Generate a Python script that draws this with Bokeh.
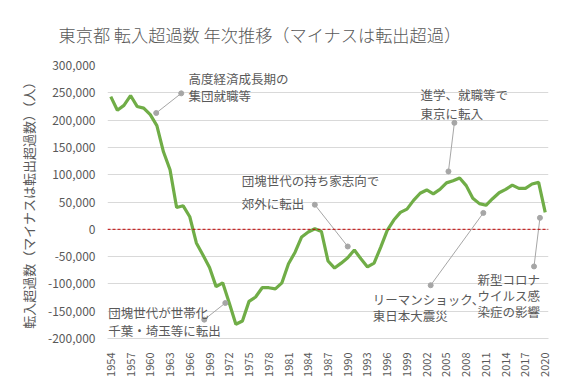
from bokeh.plotting import figure
from bokeh.models import (ColumnDataSource, FixedTicker, NumeralTickFormatter, Span, Label, Title)
from bokeh.embed import file_html
from bokeh.resources import INLINE
import math

# ---- data ----
years = list(range(1954, 2021))
net_migration = [
    243000, 218000, 227000, 245000, 225000, 222000, 210000, 190000, 142000, 109000,
    40000, 43000, 23000, -25000, -47000, -70000, -105000, -98000, -135000, -174000,
    -168000, -132000, -124000, -107000, -107000, -109000, -98000, -63000, -42000, -14000,
    -5000, 1000, -4000, -58000, -71000, -62000, -52000, -38000, -54000, -69000,
    -62000, -33000, -2000, 17000, 31000, 37000, 53000, 66000, 72000, 65000,
    73000, 85000, 89000, 94000, 80000, 57000, 47000, 44000, 56000, 67000,
    73000, 81000, 75000, 75000, 83000, 86000, 31000,
]
x_tick_years = list(range(1954, 2021, 3))
y_ticks = list(range(-200000, 300001, 50000))

title_text = "東京都 転入超過数 年次推移（マイナスは転出超過）"
y_label = "転入超過数（マイナスは転出超過数）（人）"

# annotations: text lines, text anchor (year, value), line step, leader from/to (year, value)
notes = [
    (["高度経済成長期の", "集団就職等"], (1965.8, 276000), 31000, ((1964.7, 249000), (1960.9, 213000))),
    (["団塊世代の持ち家志向で", "郊外に転出"], (1973.9, 90000), 42000, ((1985.0, 45000), (1990.0, -31500))),
    (["進学、就職等で", "東京に転入"], (2001.05, 247500), 34500, ((2006.2, 195000), (2005.3, 106000))),
    (["リーマンショック、", "東日本大震災"], (1993.8, -128000), 30500, ((2002.6, -102500), (2010.6, 30000))),
    (["新型コロナ", "ウイルス感", "染症の影響"], (2009.7, -92500), 29000, ((2018.3, -68000), (2019.2, 21000))),
    (["団塊世代が世帯化", "千葉・埼玉等に転出"], (1953.6, -153000), 32500, ((1968.2, -165500), (1971.4, -135000))),
]

GRAY_TXT = "#595959"
JP = "Noto Sans CJK JP"
JP_LIGHT = "'Noto Sans CJK JP Light', 'Noto Sans CJK JP'"

p = figure(width=562, height=384, output_backend="svg", toolbar_location=None,
           x_range=(1953.5, 2020.5), y_range=(-200000, 300000),
           min_border_left=107, min_border_right=14, min_border_top=62, min_border_bottom=46)
p.outline_line_color = None
p.background_fill_color = "white"
p.border_fill_color = "white"

t = Title(text=title_text, align="left", offset=-49, text_font=JP_LIGHT, text_font_size="17.2px",
          text_font_style="normal", text_color=GRAY_TXT, standoff=38)
p.add_layout(t, "above")

# grid
p.xgrid.grid_line_color = None
p.ygrid.grid_line_color = "#d9d9d9"
p.ygrid.ticker = FixedTicker(ticks=y_ticks)

# axes
p.yaxis.ticker = FixedTicker(ticks=y_ticks)
p.yaxis.formatter = NumeralTickFormatter(format="0,0")
p.yaxis.axis_line_color = None
p.yaxis.major_tick_line_color = None
p.yaxis.minor_tick_line_color = None
p.yaxis.major_label_standoff = 6
p.yaxis.major_label_text_font = JP
p.yaxis.major_label_text_font_size = "12px"
p.yaxis.major_label_text_color = GRAY_TXT
p.yaxis.axis_label = y_label
p.yaxis.axis_label_text_font = JP
p.yaxis.axis_label_text_font_size = "13px"
p.yaxis.axis_label_text_font_style = "normal"
p.yaxis.axis_label_text_color = GRAY_TXT
p.yaxis.axis_label_standoff = 7

p.xaxis.ticker = FixedTicker(ticks=x_tick_years)
p.xaxis.major_label_orientation = math.pi / 2
p.xaxis.axis_line_color = "#d9d9d9"
p.xaxis.major_tick_line_color = None
p.xaxis.minor_tick_line_color = None
p.xaxis.major_label_standoff = 8
p.xaxis.major_label_text_font = JP
p.xaxis.major_label_text_font_size = "11px"
p.xaxis.major_label_text_color = GRAY_TXT

# zero line
p.add_layout(Span(location=0, dimension="width", line_color="#c00000", line_width=1,
                  line_dash="3 2"))

src = ColumnDataSource(dict(year=years, value=net_migration))
p.line("year", "value", source=src, line_color="#70ad47", line_width=3.2)

# annotations
for lines, (tx, ty), step, ((x0, y0), (x1, y1)) in notes:
    p.segment(x0=[x0], y0=[y0], x1=[x1], y1=[y1], line_color="#a6a6a6", line_width=1)
    p.scatter([x0, x1], [y0, y1], size=5, color="#a6a6a6")
    for i, s in enumerate(lines):
        p.add_layout(Label(x=tx, y=ty - i * step, text=s, text_font=JP, text_font_size="12.5px",
                           text_color=GRAY_TXT, text_baseline="middle", text_align="left"))

open("out.html", "w").write(file_html(p, INLINE))
